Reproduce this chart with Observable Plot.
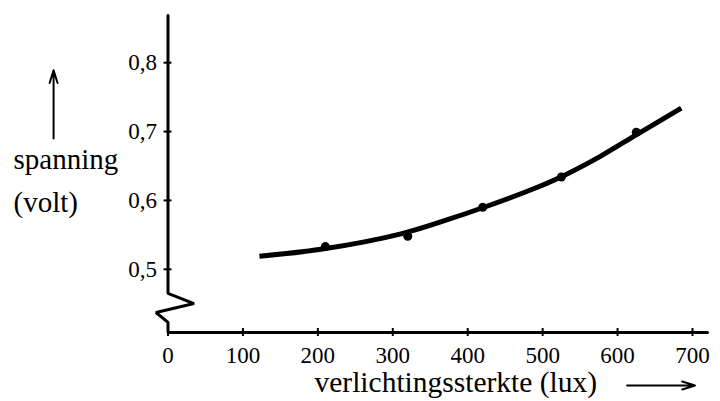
<!DOCTYPE html>
<html>
<head>
<meta charset="utf-8">
<script src="https://cdn.jsdelivr.net/npm/d3@7"></script>
<script src="https://cdn.jsdelivr.net/npm/@observablehq/plot@0.6"></script>
<style>
  html, body { margin: 0; padding: 0; background: #fff; }
  #chart { width: 720px; height: 401px; }
  #chart svg, #chart svg text { font-family: "Liberation Serif", "Times New Roman", serif !important; }
</style>
</head>
<body>
<div id="chart"></div>
<script>
// ---- data ----
const measX = [210, 320, 420, 525, 625];            // verlichtingssterkte (lux)
const measY = [0.533, 0.548, 0.590, 0.634, 0.699];  // spanning (volt)

// hand-drawn fitted curve through the measurements
const curveX = [122, 204, 311, 373, 419, 488, 528, 577, 626, 685];
const curveY = [0.519, 0.529, 0.5515, 0.572, 0.589, 0.617, 0.636, 0.664, 0.696, 0.734];

const xTicks = [0, 100, 200, 300, 400, 500, 600, 700];
const xTickLabels = ["0", "100", "200", "300", "400", "500", "600", "700"];
const yTicks = [0.5, 0.6, 0.7, 0.8];
const yTickLabels = ["0,5", "0,6", "0,7", "0,8"];

const yLabelLines = ["spanning", "(volt)"];
const xLabel = "verlichtingssterkte (lux)";

// ---- derived tables ----
const points = measX.map((x, i) => ({x, y: measY[i]}));
const curve = curveX.map((x, i) => ({x, y: curveY[i]}));

const yBase = 0.4082;  // value where the (broken) y axis meets the x axis
const yTop = 0.8685;
// axis polyline with the zig-zag break (data units)
const axisPath = [
  {x: 0, y: yTop}, {x: 0, y: 0.4649}, {x: 34.7, y: 0.4503}, {x: -16, y: 0.4373},
  {x: 0, y: 0.4228}, {x: 0, y: yBase}, {x: 720, y: yBase}
];

const font = "Liberation Serif";
const T = {fill: "black", fontFamily: font};

const chart = Plot.plot({
  width: 720,
  height: 401,
  marginTop: 0, marginRight: 0, marginBottom: 0, marginLeft: 0,
  style: {fontFamily: font, background: "white", color: "black", overflow: "visible"},
  x: {domain: [0, 700], range: [167.5, 692], axis: null},
  y: {domain: [0.5, 0.8], range: [268.8, 62.2], axis: null},
  marks: [
    // axes with break
    Plot.line(axisPath, {x: "x", y: "y", stroke: "black", strokeWidth: 3, strokeLinejoin: "miter", curve: "linear"}),
    Plot.ruleX(xTicks, {x: d => d, y1: yBase, y2: yBase, insetTop: -4, insetBottom: -4, stroke: "black", strokeWidth: 2}),
    Plot.ruleY(yTicks, {y: d => d, x1: 0, x2: 0, insetLeft: -4, insetRight: -4, stroke: "black", strokeWidth: 2}),
    Plot.text(xTicks, {x: d => d, y: yBase, text: (d, i) => xTickLabels[i], dy: 30, lineAnchor: "bottom", fontSize: 23, ...T}),
    Plot.text(yTicks, {x: 0, y: d => d, text: (d, i) => yTickLabels[i], dx: -11, textAnchor: "end", fontSize: 23, ...T}),
    // axis titles
    Plot.text([yLabelLines[0]], {frameAnchor: "top-left", dx: 13, dy: 168, textAnchor: "start", lineAnchor: "bottom", fontSize: 29, ...T}),
    Plot.text([yLabelLines[1]], {frameAnchor: "top-left", dx: 13, dy: 211, textAnchor: "start", lineAnchor: "bottom", fontSize: 29, ...T}),
    Plot.text([xLabel], {frameAnchor: "top-left", dx: 314, dy: 391, textAnchor: "start", lineAnchor: "bottom", fontSize: 29.5, ...T}),
    // axis arrows
    Plot.arrow([0], {x1: -152.7, x2: -152.7, y1: 0.690, y2: 0.789, stroke: "black", strokeWidth: 2, headLength: 10, headAngle: 35}),
    Plot.arrow([0], {x1: 612.7, x2: 703.3, y1: 0.3312, y2: 0.3312, stroke: "black", strokeWidth: 2, headLength: 10, headAngle: 35}),
    // fitted curve and measurements
    Plot.line(curve, {x: "x", y: "y", stroke: "black", strokeWidth: 5, curve: "catmull-rom", strokeLinecap: "butt"}),
    Plot.dot(points, {x: "x", y: "y", r: 4.5, fill: "black"})
  ]
});
document.getElementById("chart").appendChild(chart);
</script>
</body>
</html>
